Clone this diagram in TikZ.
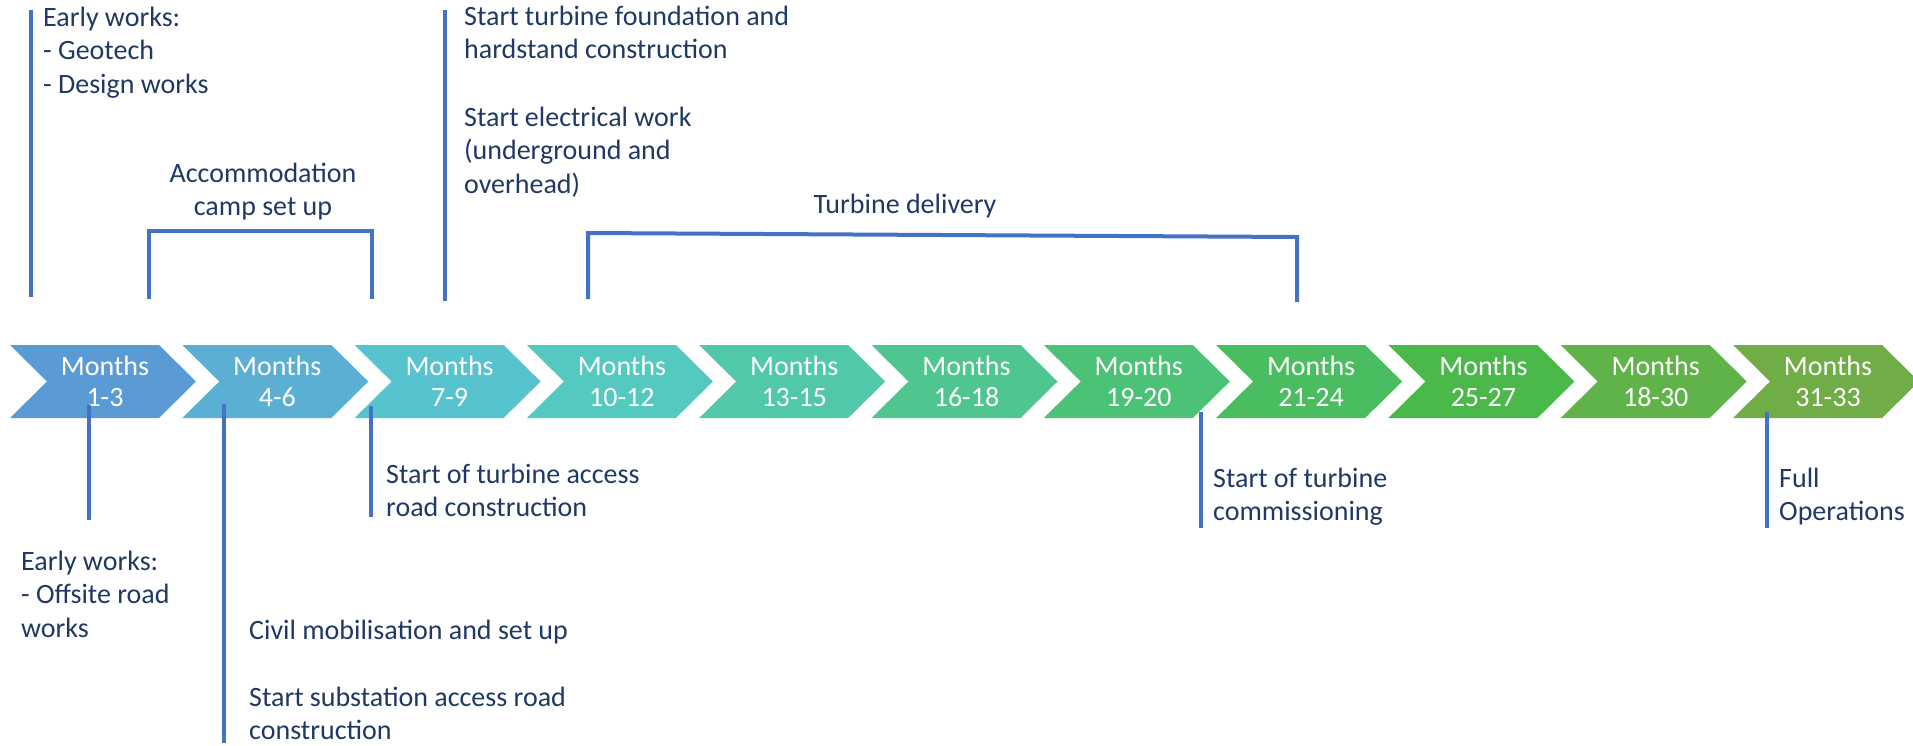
\documentclass[tikz,border=0pt]{standalone}
\usepackage{fontspec}
\setmainfont{Carlito}
\definecolor{lineblue}{HTML}{4472C4}
\definecolor{notecol}{HTML}{203864}
\definecolor{c0}{HTML}{5B9BD5}
\definecolor{c1}{HTML}{5AAFD2}
\definecolor{c2}{HTML}{56C3CF}
\definecolor{c3}{HTML}{54C9BF}
\definecolor{c4}{HTML}{51C8A9}
\definecolor{c5}{HTML}{4FC690}
\definecolor{c6}{HTML}{4CC276}
\definecolor{c7}{HTML}{4ABD60}
\definecolor{c8}{HTML}{4BB94A}
\definecolor{c9}{HTML}{5FB348}
\definecolor{c10}{HTML}{71AD47}
\newcommand{\firstln}{\rule{0pt}{22pt}}
\begin{document}
\begin{tikzpicture}[x=1pt,y=-1pt,
  markline/.style={draw=lineblue, line width=4pt},
  note/.style={anchor=north west, inner sep=0pt, align=left, text=notecol, font=\fontsize{28}{33.5}\selectfont},
  notec/.style={anchor=north, inner sep=0pt, align=center, text=notecol, font=\fontsize{28}{33.5}\selectfont},
  monthtext/.style={anchor=north, inner sep=0pt, align=center, text=white, font=\fontsize{28}{31}\selectfont}]
\useasboundingbox (0,0) rectangle (1913,745);
\clip (0,0) rectangle (1913,745);
% chevrons
\foreach \i/\lab in {0/1-3,1/4-6,2/7-9,3/10-12,4/13-15,5/16-18,6/19-20,7/21-24,8/25-27,9/18-30,10/31-33}{
  \pgfmathsetmacro\xx{10+172.3*\i}
  \fill[c\i] (\xx,345) -- ++(149,0) -- ++(37,36.5) -- ++(-37,36.5) -- ++(-149,0) -- ++(37,-36.5) -- cycle;
  \node[monthtext] (m\i) at (\xx+95,353) {\firstln Months\\\lab};
}
% coordinates for marker lines
\coordinate (a1) at (31,10);   \coordinate (a2) at (31,297);
\coordinate (b1) at (149,299); \coordinate (b2) at (149,231);
\coordinate (b3) at (372,231); \coordinate (b4) at (372,299);
\coordinate (c1) at (445,10);  \coordinate (c2) at (445,301);
\coordinate (d1) at (588,299); \coordinate (d2) at (588,233);
\coordinate (d3) at (1297,237); \coordinate (d4) at (1297,302);
\coordinate (e1) at (89,405);  \coordinate (e2) at (89,520);
\coordinate (f1) at (224,404); \coordinate (f2) at (224,743);
\coordinate (g1) at (371,406); \coordinate (g2) at (371,517);
\coordinate (h1) at (1201,412); \coordinate (h2) at (1201,528);
\coordinate (k1) at (1767,412); \coordinate (k2) at (1767,528);
\draw[markline] (a1) -- (a2);
\draw[markline] (b1) -- (b2) -- (b3) -- (b4);
\draw[markline] (c1) -- (c2);
\draw[markline] (d1) -- (d2) -- (d3) -- (d4);
\draw[markline] (e1) -- (e2);
\draw[markline] (f1) -- (f2);
\draw[markline] (g1) -- (g2);
\draw[markline] (h1) -- (h2);
\draw[markline] (k1) -- (k2);
% top notes
\node[note] (tEarly) at (43,4) {\firstln Early works:\\- Geotech\\- Design works};
\node[notec] (tAccom) at (263,160) {\firstln Accommodation\\camp set up};
\node[note] (tFound) at (464,3) {\firstln Start turbine foundation and\\hardstand construction};
\node[note] (tElec) at (464,104) {\firstln Start electrical work\\(underground and\\overhead)};
\node[notec] (tTurb) at (905,191) {\firstln Turbine delivery};
% bottom notes
\node[note] (tOff) at (21,548) {\firstln Early works:\\- Offsite road\\works};
\node[note] (tCivil) at (249,617) {\firstln Civil mobilisation and set up};
\node[note] (tSub) at (249,684) {\firstln Start substation access road\\construction};
\node[note] (tAccess) at (386,461) {\firstln Start of turbine access\\road construction};
\node[note] (tComm) at (1213,465) {\firstln Start of turbine\\commissioning};
\node[note] (tFull) at (1779,465) {\firstln Full\\Operations};
\end{tikzpicture}
\end{document}
